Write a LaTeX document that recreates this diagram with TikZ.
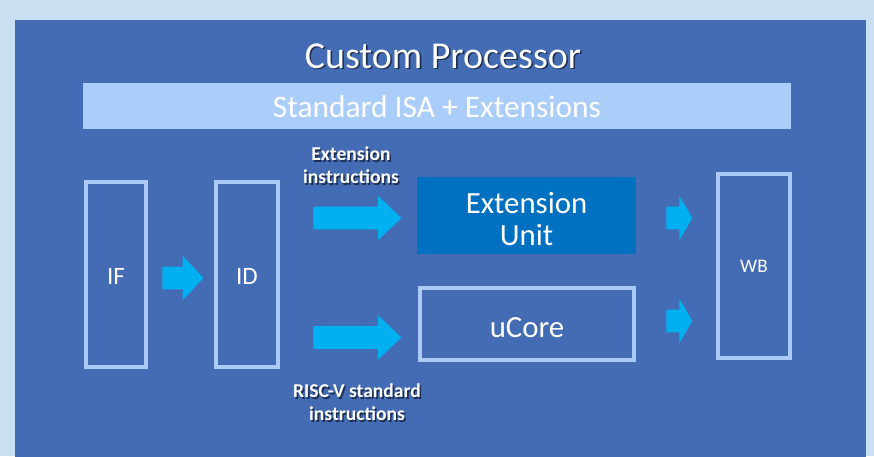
\documentclass[tikz,border=0pt]{standalone}
\usepackage{fontspec}
\setmainfont{Carlito}
\usepackage{tikz}
\definecolor{bgblue}{HTML}{C9DFF2}
\definecolor{panelblue}{HTML}{436CB4}
\definecolor{isablue}{HTML}{ABCDFA}
\definecolor{boxline}{HTML}{A9CBF5}
\definecolor{unitblue}{HTML}{0070C0}
\definecolor{flowcyan}{HTML}{00B0F0}
\definecolor{shadowc}{HTML}{1C2E52}
\usetikzlibrary{shapes.arrows}

% text with a small dark drop shadow
\newcommand{\shadowed}[1]{\leavevmode\rlap{\hspace{0.8pt}\raisebox{-0.8pt}{\textcolor{shadowc}{#1}}}#1}

\tikzset{
	stage/.style={draw=boxline, line width=2pt, text=white, inner sep=0pt, align=center},
	flow/.style={single arrow, fill=flowcyan, draw=none, inner xsep=0pt, inner ysep=5.5pt,
		minimum width=0pt, single arrow head extend=5.4pt, anchor=tail},
	note/.style={text=white, font=\fontsize{9.8}{11.5}\selectfont\bfseries, align=center}
}

\begin{document}
\begin{tikzpicture}[x=0.5pt, y=-0.5pt]
	\useasboundingbox (0,0) rectangle (874,456);
	\fill[bgblue] (0,0) rectangle (874,456);
	\fill[panelblue] (15,20) rectangle (866,460);
	
	\node[text=white, font=\fontsize{19}{22}\selectfont] (title) at (443,57) {\shadowed{Custom Processor}};
	
	\node[fill=isablue, minimum width=354pt, minimum height=23pt, text height=12pt, text=white, font=\fontsize{15.7}{18}\selectfont] (isa) at (437,106) {Standard ISA + Extensions};
	
	\node[stage, minimum width=30pt, minimum height=92.5pt, text height=10pt, font=\fontsize{12.5}{14}\selectfont] (if) at (116,274.5) {IF};
	\node[stage, minimum width=31pt, minimum height=92.5pt, text height=10pt, font=\fontsize{12.5}{14}\selectfont] (id) at (247,274.5) {ID};
	
	\node[fill=unitblue, inner sep=0pt, minimum width=109.5pt, minimum height=38.5pt, text height=30.5pt, text=white, align=center, font=\fontsize{15.4}{16}\selectfont] (extunit) at (526.5,215.5) {Extension\\Unit};
	\node[stage, minimum width=107pt, minimum height=36pt, text height=14pt, font=\fontsize{15.4}{18}\selectfont] (ucore) at (527,324) {uCore};
	
	\node[stage, minimum width=36pt, minimum height=92pt, font=\fontsize{9.6}{11}\selectfont] (wb) at (754,266) {WB};
	
	% block arrows between the stages
	\node[flow, minimum height=20.5pt, single arrow tip angle=94] (ifid) at (162,278) {};
	\node[flow, minimum height=44pt, single arrow tip angle=87] (toext) at (313,218) {};
	\node[flow, minimum height=44pt, single arrow tip angle=87] (tocore) at (313,337.5) {};
	\node[flow, minimum height=13pt, single arrow tip angle=119] (extwb) at (666,218) {};
	\node[flow, minimum height=13pt, single arrow tip angle=119] (corewb) at (666,321) {};
	
	\node[note] (extlbl) at (351,166) {\shadowed{Extension}\\\shadowed{instructions}};
	\node[note] (stdlbl) at (357,403) {\shadowed{RISC-V standard}\\\shadowed{instructions}};
\end{tikzpicture}
\end{document}
